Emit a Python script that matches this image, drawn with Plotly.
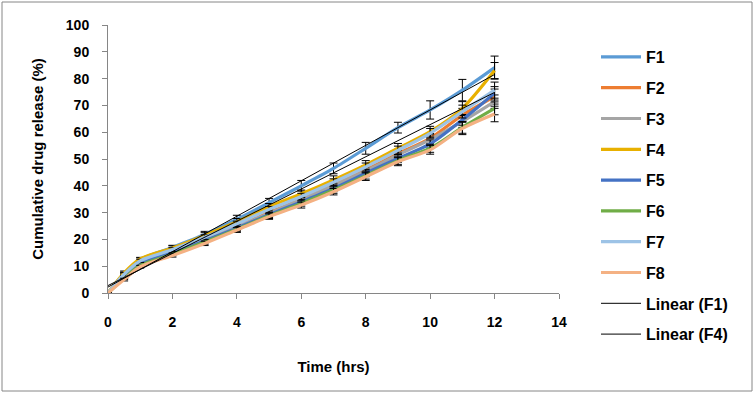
import numpy as np
import plotly.graph_objects as go

# ---- data ----
time_hrs = [0, 0.5, 1, 2, 3, 4, 5, 6, 7, 8, 9, 10, 11, 12]

series_names = ["F1", "F2", "F3", "F4", "F5", "F6", "F7", "F8"]

F1 = [0, 7.0, 12.5, 17.0, 21.8, 27.5, 33.7, 40.0, 46.5, 54.0, 61.7, 68.3, 75.7, 84.1]
F2 = [0, 6.5, 11.5, 15.5, 20.0, 25.0, 30.0, 35.0, 40.5, 46.0, 52.0, 57.7, 66.4, 73.3]
F3 = [0, 6.5, 11.2, 15.3, 19.8, 24.6, 29.7, 34.8, 40.0, 45.5, 51.5, 57.2, 64.0, 71.4]
F4 = [0, 7.5, 12.7, 16.8, 21.5, 26.6, 32.2, 37.0, 42.2, 47.8, 54.0, 60.2, 68.9, 83.0]
F5 = [0, 6.0, 11.0, 15.0, 19.5, 24.2, 29.2, 34.0, 39.0, 44.7, 50.2, 55.6, 64.6, 74.5]
F6 = [0, 5.5, 10.3, 14.5, 19.0, 23.8, 28.8, 33.4, 38.4, 43.8, 49.4, 54.0, 61.8, 68.9]
F7 = [0, 7.0, 12.0, 16.2, 20.8, 25.8, 31.2, 36.0, 41.3, 47.0, 53.2, 59.6, 67.7, 75.7]
F8 = [0, 5.0, 9.8, 14.0, 18.5, 23.5, 28.5, 32.8, 37.8, 43.4, 49.0, 53.4, 61.4, 66.8]

SD1 = [0, 0.8, 0.6, 0.8, 1.2, 1.5, 1.6, 2.0, 2.0, 2.2, 2.0, 3.4, 4.0, 4.3]
SD2 = [0, 0.6, 0.5, 0.7, 0.8, 1.0, 1.0, 1.2, 1.5, 1.5, 1.6, 1.8, 2.5, 2.8]
SD3 = [0, 0.6, 0.5, 0.7, 0.8, 1.0, 1.0, 1.2, 1.4, 1.5, 1.6, 1.8, 2.2, 2.5]
SD4 = [0, 0.7, 0.6, 0.8, 1.0, 1.2, 1.2, 1.4, 1.5, 1.6, 1.8, 2.0, 2.5, 3.0]
SD5 = [0, 0.5, 0.5, 0.6, 0.8, 0.9, 1.0, 1.0, 1.2, 1.3, 1.4, 1.5, 2.0, 2.5]
SD6 = [0, 0.5, 0.5, 0.6, 0.8, 0.9, 1.0, 1.0, 1.2, 1.3, 1.4, 1.5, 2.2, 2.4]
SD7 = [0, 0.6, 0.6, 0.7, 0.9, 1.0, 1.1, 1.2, 1.3, 1.5, 1.6, 1.8, 2.4, 3.0]
SD8 = [0, 0.5, 0.5, 0.6, 0.8, 0.9, 1.0, 1.1, 1.2, 1.4, 1.5, 1.6, 2.3, 2.9]

x_ticks = [0, 2, 4, 6, 8, 10, 12, 14]
y_ticks = [0, 10, 20, 30, 40, 50, 60, 70, 80, 90, 100]

colors = ["#5B9BD5", "#ED7D31", "#A5A5A5", "#E8B000", "#4472C4", "#70AD47", "#9DC3E6", "#F4B183"]

values = [F1, F2, F3, F4, F5, F6, F7, F8]
sds = [SD1, SD2, SD3, SD4, SD5, SD6, SD7, SD8]

FONT = "Liberation Sans, Arial, sans-serif"

fig = go.Figure()

for name, vals, sd, col in zip(series_names, values, sds, colors):
    fig.add_trace(go.Scatter(
        x=time_hrs, y=vals, name=f"<b>{name}</b>", mode="lines",
        line=dict(color=col, width=3.2, shape="spline", smoothing=0.8),
        error_y=dict(type="data", array=sd, visible=True, color="#000000",
                     thickness=1, width=4),
        legendgroup=name,
    ))

# linear trend lines for F1 and F4 (least squares from the data)
for name, vals in [("F1", F1), ("F4", F4)]:
    slope, intercept = np.polyfit(time_hrs, vals, 1)
    xs = [min(time_hrs), max(time_hrs)]
    fig.add_trace(go.Scatter(
        x=xs, y=[slope * v + intercept for v in xs],
        name=f"<b>Linear ({name})</b>", mode="lines",
        line=dict(color="#000000", width=1),
        legendgroup=f"lin{name}",
    ))

W, H = 755, 394
L, R, T, B = 108, 196, 25, 101
pw, ph = W - L - R, H - T - B

def px_x(p):
    return (p - L) / pw

def px_y(p):
    return (H - B - p) / ph

fig.update_layout(
    width=W, height=H,
    margin=dict(l=L, r=R, t=T, b=B, autoexpand=False),
    paper_bgcolor="white", plot_bgcolor="white",
    font=dict(family=FONT, color="#000000"),
    showlegend=True,
    legend=dict(
        x=px_x(596), xanchor="left", y=px_y(40), yanchor="top",
        font=dict(size=16, family=FONT),
        itemwidth=40, tracegroupgap=7,
        bgcolor="rgba(0,0,0,0)",
        maxheight=390,
    ),
    xaxis=dict(
        range=[0, 14], tickvals=x_ticks, ticktext=[f"<b>{v}</b>" for v in x_ticks],
        showgrid=False, zeroline=False, showline=True, linecolor="#868686", linewidth=1,
        ticks="outside", ticklen=5, tickcolor="#868686", automargin=False,
        tickfont=dict(size=14, family=FONT),
        ticklabelstandoff=11,
        title=dict(text="<b>Time (hrs)</b>", font=dict(size=15), standoff=32),
    ),
    yaxis=dict(
        range=[0, 100], tickvals=y_ticks, ticktext=[f"<b>{v}</b>" for v in y_ticks],
        showgrid=False, zeroline=False, showline=True, linecolor="#868686", linewidth=1,
        ticks="outside", ticklen=5, tickcolor="#868686", automargin=False,
        tickfont=dict(size=14, family=FONT),
        ticklabelstandoff=10,
        title=dict(text="<b>Cumulative drug release (%)</b>", font=dict(size=15), standoff=18),
    ),
)

# outer chart border
fig.add_shape(type="rect", xref="paper", yref="paper",
              x0=px_x(2), x1=px_x(752), y0=px_y(391), y1=px_y(2),
              line=dict(color="#868686", width=1), fillcolor="rgba(0,0,0,0)", layer="below")

fig.write_html("out.html",
               config={"displayModeBar": False},
               post_script="document.body.style.margin='0px';document.body.style.overflow='hidden';")
